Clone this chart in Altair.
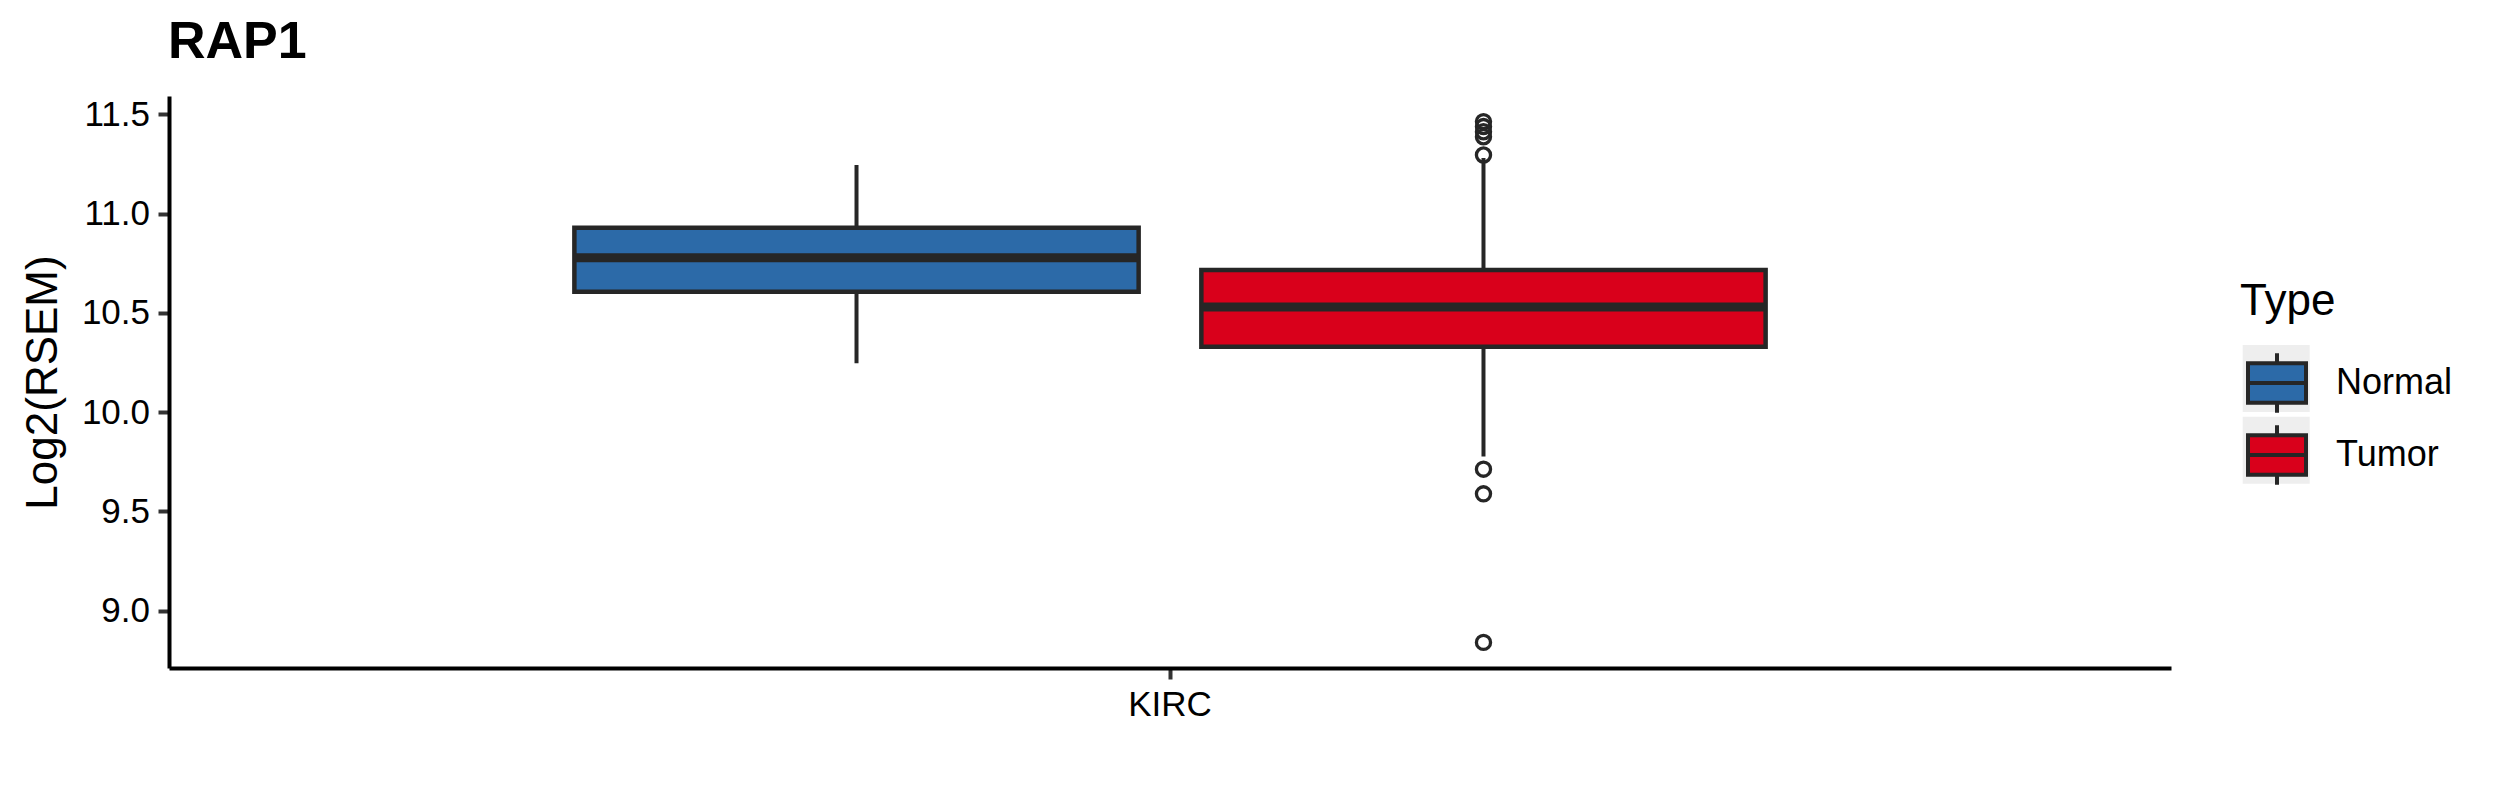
import altair as alt
import pandas as pd

# ---- data ----
types = ["Normal", "Tumor"]
cancer = ["KIRC", "KIRC"]
lower_whisker = [10.247, 9.777]
q1 = [10.607, 10.330]
medians = [10.778, 10.529]
q3 = [10.929, 10.716]
upper_whisker = [11.245, 11.280]
outlier_type = ["Tumor"] * 8
outlier_values = [11.463, 11.438, 11.412, 11.387, 11.295, 9.713, 9.589, 8.841]
fill_colors = ["#2C6AA8", "#D9001B"]
y_ticks = [9.0, 9.5, 10.0, 10.5, 11.0, 11.5]
y_domain = [8.712, 11.592]

box_df = pd.DataFrame({
    "Cancer": cancer, "Type": types, "lo": lower_whisker, "q1": q1,
    "med": medians, "q3": q3, "hi": upper_whisker,
})
out_df = pd.DataFrame({
    "Cancer": ["KIRC"] * len(outlier_values), "Type": outlier_type, "value": outlier_values,
})

FONT = "Liberation Sans"
INK = "#262626"
KEY_BG = "#EEEEEE"

x_enc = alt.X("Cancer:N", title=None,
              scale=alt.Scale(paddingInner=0, paddingOuter=0.3403),
              axis=alt.Axis(labelAngle=0, labelFontSize=35, labelPadding=8))
xoff = alt.XOffset("Type:N", scale=alt.Scale(domain=types, paddingInner=0.1, paddingOuter=0))
y_scale = alt.Scale(domain=y_domain, nice=False, zero=False)
y_axis = alt.Axis(values=y_ticks, format=".1f", labelFontSize=35, labelPadding=8.5,
                  title="Log2(RSEM)", titleFontSize=44, titleFontWeight="normal",
                  titleAngle=270, titleX=-113, titleY=286, titleAlign="center",
                  titleBaseline="alphabetic")

legend_path = "M-1,-0.68H1V0.68H-1Z M-1,0H1 M0,-0.68V-1.03 M0,0.68V1.03"

base = alt.Chart(box_df)

# grey legend-key backgrounds (the marks themselves sit hidden beneath the boxes)
key_bg = base.transform_calculate(Key="datum.Type").mark_point(
    filled=True, size=100, color=KEY_BG, opacity=1
).encode(
    x=x_enc, xOffset=xoff,
    y=alt.Y("med:Q", scale=y_scale, axis=y_axis),
    shape=alt.Shape("Key:N", scale=alt.Scale(range=["square", "square"]),
                    legend=alt.Legend(
                        title=None, orient="none", legendX=2073.7, legendY=249,
                        symbolSize=4489, symbolFillColor=KEY_BG,
                        symbolStrokeColor=KEY_BG,
                        symbolStrokeWidth=0, symbolOpacity=1,
                        labelExpr="''", rowPadding=4.7, zindex=1)),
)

whiskers = base.mark_rule(color=INK, strokeWidth=4).encode(
    x=x_enc, xOffset=xoff,
    y=alt.Y("lo:Q", scale=y_scale, axis=y_axis),
    y2="hi:Q",
)

boxes = base.mark_bar(stroke=INK, strokeWidth=4.5, opacity=1).encode(
    x=x_enc, xOffset=xoff,
    y=alt.Y("q1:Q", scale=y_scale, axis=y_axis),
    y2="q3:Q",
    fill=alt.Fill("Type:N", scale=alt.Scale(domain=types, range=fill_colors),
                  legend=alt.Legend(
                      title="Type", orient="none", legendX=2071, legendY=184,
                      titleFontSize=44, titleFont=FONT, titleFontWeight="normal",
                      titleColor="black", titlePadding=28,
                      labelFontSize=36, labelFont=FONT, labelColor="black",
                      labelOffset=28, rowPadding=-4, symbolOffset=6,
                      symbolType=legend_path, symbolSize=3364,
                      symbolStrokeColor=INK, symbolStrokeWidth=4, symbolOpacity=1,
                      zindex=2)),
)

median_ticks = base.mark_tick(color=INK, thickness=9, size=566, opacity=1).encode(
    x=x_enc, xOffset=xoff,
    y=alt.Y("med:Q", scale=y_scale, axis=y_axis),
)

outliers = alt.Chart(out_df).mark_point(
    shape="circle", filled=False, stroke=INK, strokeWidth=3.3, size=200, opacity=1
).encode(
    x=x_enc, xOffset=xoff,
    y=alt.Y("value:Q", scale=y_scale, axis=y_axis),
)

chart = alt.layer(key_bg, whiskers, boxes, median_ticks, outliers).properties(
    width=2002, height=572,
    autosize=alt.AutoSizeParams(type="none"),
    padding={"left": 161, "top": 88, "right": 320, "bottom": 124},
    title=alt.Title("RAP1", anchor="start", frame="group", fontSize=52,
                    fontWeight="bold", font=FONT, color="black",
                    baseline="alphabetic", offset=33.5, dx=-1, dy=47.5),
).configure_view(stroke=None).configure_axis(
    grid=False, domainColor="black", domainWidth=4, tickColor="#333333",
    tickWidth=4, tickSize=11, labelFont=FONT, titleFont=FONT,
    labelColor="black", titleColor="black",
)

chart.save("out.html", embed_options={"renderer": "svg", "actions": False})
